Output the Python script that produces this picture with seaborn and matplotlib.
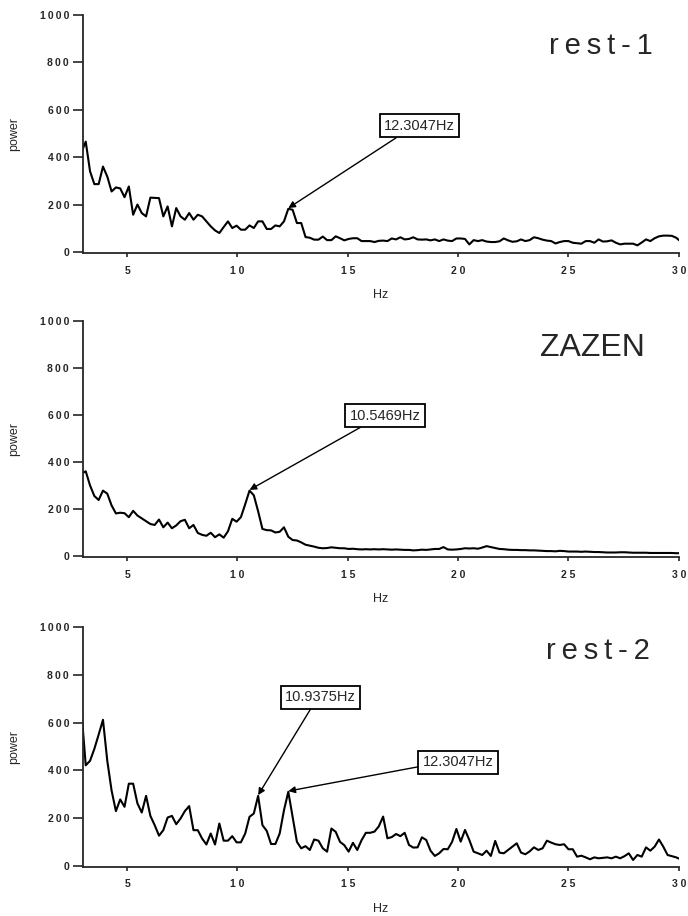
import numpy as np
import pandas as pd
import matplotlib
matplotlib.use("Agg")
import matplotlib.pyplot as plt
import seaborn as sns

# frequency bins of the FFT (0.1953125 Hz resolution), bins 15..154
df_hz = 0.1953125
bins = np.arange(15, 155)

# === power spectra ===
rest1 = [
    420, 465, 340, 286, 286, 360, 318, 255, 272, 268,
    231, 276, 157, 200, 164, 150, 229, 228, 227, 150,
    192, 108, 185, 150, 136, 164, 136, 157, 150, 129,
    108, 91, 80, 105, 129, 101, 111, 94, 94, 112,
    101, 129, 129, 97, 97, 112, 108, 129, 182, 178,
    122, 122, 63, 60, 52, 52, 65, 50, 50, 66,
    58, 49, 55, 58, 58, 46, 46, 46, 42, 47,
    48, 46, 57, 53, 62, 53, 55, 62, 53, 52,
    53, 49, 53, 46, 53, 48, 46, 57, 57, 55,
    32, 50, 46, 50, 44, 42, 42, 45, 57, 49,
    43, 45, 53, 46, 50, 62, 58, 52, 48, 46,
    36, 42, 46, 46, 39, 37, 35, 46, 46, 39,
    53, 44, 45, 49, 39, 32, 35, 35, 35, 28,
    40, 53, 46, 58, 66, 69, 69, 68, 60, 45,
]

zazen = [
    350, 360, 300, 255, 238, 278, 265, 215, 181, 184,
    182, 165, 192, 172, 160, 148, 136, 132, 155, 122,
    142, 118, 130, 148, 154, 118, 132, 98, 90, 86,
    99, 80, 92, 78, 105, 158, 146, 165, 220, 278,
    258, 190, 115, 110, 109, 100, 103, 122, 82, 68,
    66, 58, 48, 44, 40, 35, 33, 34, 37, 35,
    33, 33, 30, 31, 29, 28, 29, 28, 29, 28,
    29, 28, 27, 28, 27, 26, 26, 24, 25, 27,
    26, 28, 30, 30, 38, 28, 27, 28, 30, 33,
    32, 33, 31, 36, 42, 38, 34, 30, 29, 27,
    26, 26, 25, 25, 24, 24, 23, 22, 21, 21,
    20, 22, 21, 19, 19, 19, 18, 19, 18, 17,
    17, 16, 15, 15, 15, 16, 16, 15, 14, 14,
    14, 14, 13, 13, 13, 13, 13, 13, 12, 12,
]

rest2 = [
    650, 421, 440, 490, 550, 612, 440, 315, 229, 278,
    247, 344, 344, 261, 223, 293, 209, 170, 126, 149,
    202, 209, 174, 198, 229, 250, 149, 149, 114, 89,
    135, 89, 177, 105, 105, 124, 98, 98, 135, 205,
    219, 293, 170, 146, 91, 91, 135, 233, 310, 205,
    100, 73, 82, 66, 110, 105, 73, 59, 156, 142,
    100, 86, 59, 96, 66, 107, 138, 138, 143, 165,
    206, 115, 120, 133, 124, 138, 87, 76, 77, 119,
    108, 63, 41, 52, 70, 69, 100, 154, 101, 150,
    108, 59, 52, 45, 63, 41, 104, 55, 52, 66,
    80, 94, 55, 48, 60, 77, 66, 73, 105, 97,
    90, 87, 90, 69, 69, 38, 42, 35, 27, 35,
    31, 33, 35, 31, 38, 31, 40, 52, 24, 45,
    38, 77, 63, 80, 110, 80, 45, 40, 35, 27,
]

titles = ["rest-1", "ZAZEN", "rest-2"]
ts = "\u2009"  # thin space, the titles are letter-spaced
title_text = [ts.join("rest-1"), "ZAZEN", ts.join("rest-2")]
xtick_labels = ["5", "1 0", "1 5", "2 0", "2 5", "3 0"]
ytick_labels = ["0", "200", "400", "600", "800", "1000"]
# peaks marked with boxed labels: (bin, label, text position, relpos)
peaks = [
    [(63, "12.3047Hz", (18.25, 532), (0.28, 0.0))],
    [(54, "10.5469Hz", (16.7, 597), (0.27, 0.0))],
    [(56, "10.9375Hz", (13.77, 707), (0.40, 0.0)),
     (63, "12.3047Hz", (20.0, 433), (0.0, 0.25))],
]

freq = bins * df_hz
data = pd.DataFrame({"Hz": np.tile(freq, 3),
                     "power": np.concatenate([rest1, zazen, rest2]),
                     "cond": np.repeat(titles, len(freq))})

sns.set_style("ticks")
plt.rcParams['font.family'] = ['Liberation Sans', 'DejaVu Sans']

fig = plt.figure(figsize=(6.88, 9.16), dpi=100)
# axes boxes in figure fraction
boxes = [
    [0.1206, 0.7236, 0.866, 0.2604],
    [0.1206, 0.3917, 0.866, 0.2582],
    [0.1206, 0.0536, 0.866, 0.2616],
]
title_pos = [(0.87, 0.87, 21), (0.855, 0.884, 23), (0.865, 0.90, 21)]

for i, cond in enumerate(titles):
    ax = fig.add_axes(boxes[i])
    sub = data[data["cond"] == cond]
    sns.lineplot(data=sub, x="Hz", y="power", ax=ax, color="black",
                 linewidth=1.5, legend=False)
    ax.set_xlim(3, 30)
    ax.set_ylim(-5, 1000)
    ax.set_xticks([5, 10, 15, 20, 25, 30])
    ax.set_xticklabels(xtick_labels, fontweight="bold")
    ax.set_yticks([0, 200, 400, 600, 800, 1000])
    ax.set_yticklabels([ts.join(t) for t in ytick_labels], fontweight="bold")
    ax.tick_params(axis="y", length=7, width=1.2, pad=3, labelsize=7.5)
    ax.tick_params(axis="x", length=3, width=1.2, pad=6, labelsize=7.5)
    for s in ["left", "bottom"]:
        ax.spines[s].set_linewidth(1.3)
    sns.despine(ax=ax)
    ax.set_ylabel("power", fontsize=9)
    ax.set_xlabel("Hz", fontsize=9)
    ax.yaxis.set_label_coords(-0.106, 0.5)
    ax.xaxis.set_label_coords(0.5, -0.15)

    tx, ty, fs = title_pos[i]
    ax.text(tx, ty, title_text[i], transform=ax.transAxes, fontsize=fs,
            ha="center", va="center")

    vals = [rest1, zazen, rest2][i]
    for b, lab, (xt, yt), rp in peaks[i]:
        j = b - 15
        ax.annotate(lab, xy=(freq[j], vals[j] + 3), xytext=(xt, yt),
                    fontsize=10.5, ha="center", va="center",
                    bbox=dict(boxstyle="square,pad=0.3", fc="white",
                              ec="black", lw=1.3),
                    arrowprops=dict(arrowstyle="-|>", color="black",
                                    lw=1.0, relpos=rp,
                                    mutation_scale=10, shrinkA=0,
                                    shrinkB=0))

fig.savefig("out.png", dpi=100)
